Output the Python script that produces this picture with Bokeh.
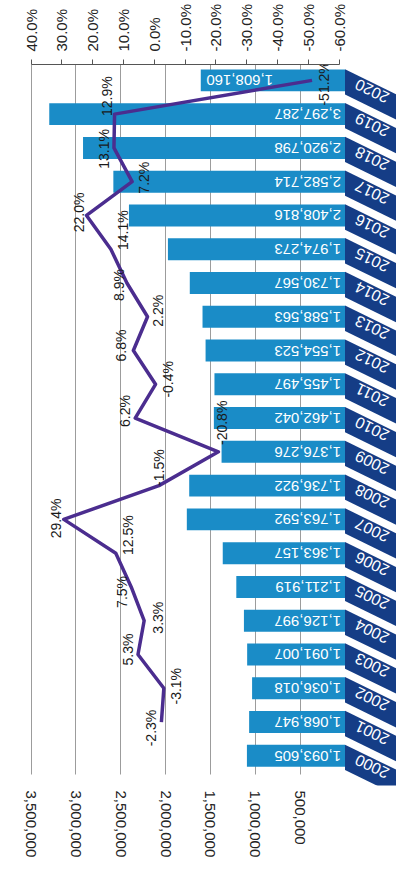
import numpy as np
from bokeh.plotting import figure
from bokeh.models import (Range1d, LinearAxis, FixedTicker, PrintfTickFormatter,
                          NumeralTickFormatter, ColumnDataSource)
from bokeh.core.properties import value
from bokeh.embed import file_html
from bokeh.resources import INLINE

# ---------------- data ----------------
years = list(range(2000, 2021))
passengers = [1093605, 1068947, 1036018, 1091007, 1126997, 1211919, 1363157,
              1763592, 1736922, 1376276, 1462042, 1455497, 1554523, 1588563,
              1730567, 1974273, 2408816, 2582714, 2920798, 3297287, 1608160]
growth_years = list(range(2001, 2021))
growth_pct = [-2.3, -3.1, 5.3, 3.3, 7.5, 12.5, 29.4, -1.5, -20.8, 6.2,
              -0.4, 6.8, 2.2, 8.9, 14.1, 22.0, 7.2, 13.1, 12.9, -51.2]
value_ticks = [500000, 1000000, 1500000, 2000000, 2500000, 3000000, 3500000]
pct_ticks = [40, 30, 20, 10, 0, -10, -20, -30, -40, -50, -60]

# ---------------- styles / layout ----------------
BAR = "#1a8cc7"
NAVY = "#153d86"
LINE = "#4b2d8f"
FONT = value("Liberation Sans")
lbl_dx = [-10, 12, -10, 14, -9, 12, -8, 0, 4, -10, 12, -12, 10, -8, 12, -8, 12, -10, -8, 12]
lbl_dy = [6, -2, -5, -3, 5, -18, -1, -18, -29, -7, -5, -5, -6, 2, -19, -3, -4, 1, -18, 3]
bar_lbl_dx = [-4] * 20 + [-72]

p = figure(width=396, height=864,
           x_range=Range1d(3.6625e6, -0.574e6), y_range=Range1d(1999.12, 2020.47),
           output_backend="svg", toolbar_location=None,
           min_border_left=16, min_border_right=0, min_border_top=57, min_border_bottom=79,
           y_axis_location=None)
p.outline_line_color = None
p.background_fill_color = "white"

bottom = p.below[0]
bottom.ticker = FixedTicker(ticks=value_ticks)
bottom.formatter = NumeralTickFormatter(format="0,0")
bottom.axis_line_color = None
bottom.major_tick_line_color = None
bottom.major_tick_out = 0
bottom.major_tick_in = 0
bottom.minor_tick_line_color = None
bottom.minor_tick_out = 0
bottom.major_label_orientation = "vertical"
bottom.major_label_standoff = 5
bottom.major_label_text_font = "Liberation Sans"
bottom.major_label_text_font_size = "15px"
bottom.major_label_text_color = "#222222"

p.xgrid.ticker = FixedTicker(ticks=value_ticks)
p.xgrid.grid_line_color = "#9c9c9c"
p.xgrid.grid_line_width = 1
p.xgrid.cross_bounds = (1999.44, 2020.47)
p.ygrid.visible = False

p.extra_x_ranges = {"pct": Range1d(44.73, -78.61)}
top = LinearAxis(x_range_name="pct", ticker=FixedTicker(ticks=pct_ticks),
                 formatter=PrintfTickFormatter(format="%.1f%%"), bounds=(-60, 40))
top.axis_line_color = "#555555"
top.major_tick_line_color = "#555555"
top.major_tick_out = 5
top.major_tick_in = 0
top.minor_tick_line_color = None
top.major_label_orientation = "vertical"
top.major_label_standoff = 8
top.major_label_text_font = "Liberation Sans"
top.major_label_text_font_size = "15px"
top.major_label_text_color = "#222222"
p.add_layout(top, "above")

# bars
src = ColumnDataSource(dict(y=years, v=passengers, zero=[0] * len(years),
                            lab=[f"{v:,}" for v in passengers], dx=bar_lbl_dx))
p.hbar(y="y", left="zero", right="v", height=0.65, source=src, fill_color=BAR, line_color=None)
p.text(x="zero", y="y", text="lab", source=src, angle=np.pi, text_align="left",
       text_baseline="middle", x_offset="dx", text_color="white", text_font=FONT,
       text_font_size="15px")

# year banners (slanted)
drop = 1.3  # years per million
xr = -0.7e6
bxs, bys = [], []
for yv in years:
    bxs.append([0, xr, xr, 0])
    bys.append([yv + 0.33, yv + 0.33 + drop * xr / 1e6, yv - 0.42 + drop * xr / 1e6, yv - 0.42])
p.patches(bxs, bys, fill_color=NAVY, line_color=None)
p.text(x=[-0.3e6] * len(years), y=[yv - 0.33 for yv in years], text=[str(yv) for yv in years],
       angle=np.pi - 0.447, text_align="center", text_baseline="middle",
       text_color="white", text_font=FONT, text_font_size="16px")

# growth line
gsrc = ColumnDataSource(dict(x=growth_pct, y=growth_years,
                             lab=[f"{v:.1f}%" for v in growth_pct],
                             dx=lbl_dx, dy=lbl_dy))
p.line(x="x", y="y", source=gsrc, x_range_name="pct", line_color=LINE, line_width=3.5,
       line_join="round")
p.text(x="x", y="y", text="lab", source=gsrc, x_range_name="pct", angle=np.pi / 2,
       text_align="center", text_baseline="middle", x_offset="dx", y_offset="dy",
       text_color="#1a1a1a", text_font=FONT, text_font_size="14px")

open("out.html", "w").write(file_html(p, INLINE))
